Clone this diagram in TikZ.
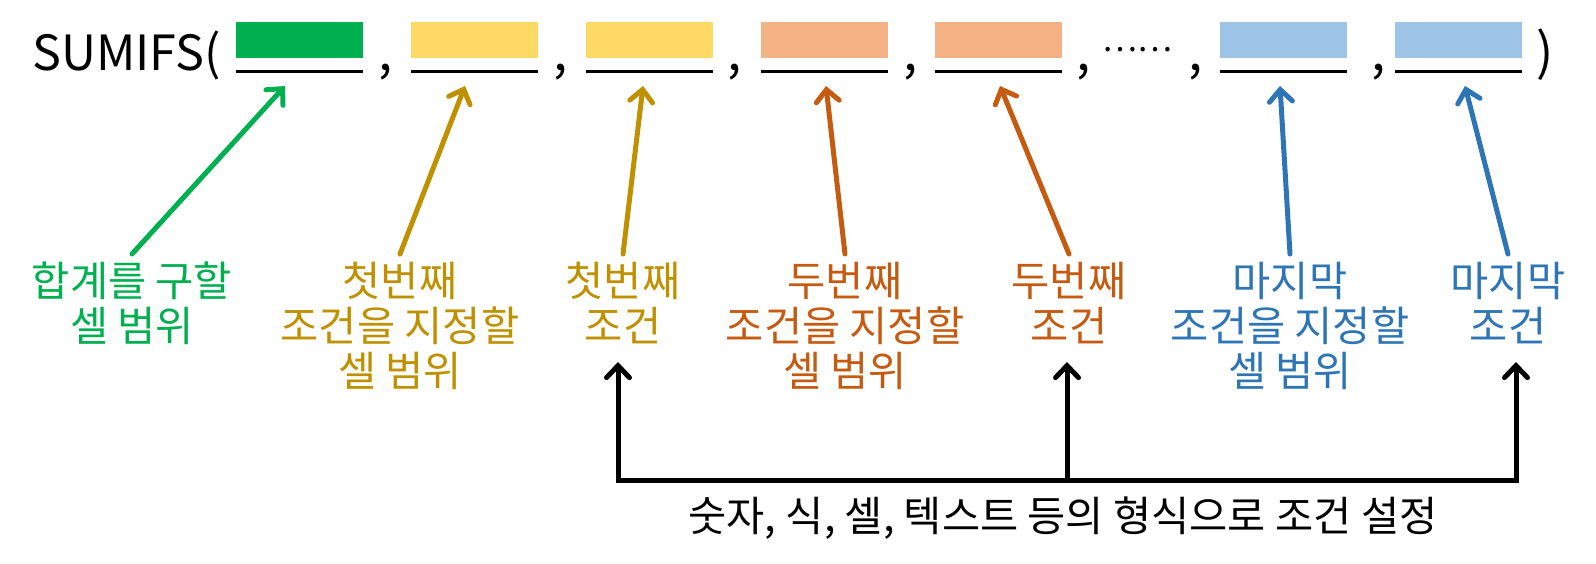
\documentclass[tikz,border=0pt]{standalone}
\usepackage{fontspec}
\setmainfont{Noto Sans CJK KR}
\usetikzlibrary{arrows.meta}

\definecolor{sumgreen}{HTML}{00B050}
\definecolor{firstfill}{HTML}{FFD966}
\definecolor{firstdark}{HTML}{BF9000}
\definecolor{secondfill}{HTML}{F4B183}
\definecolor{seconddark}{HTML}{C55A11}
\definecolor{lastfill}{HTML}{9DC3E6}
\definecolor{lastdark}{HTML}{2E75B6}

\begin{document}
\begin{tikzpicture}[x=1pt, y=-1pt,
    slot/.style={inner sep=0, minimum width=127pt, minimum height=36pt, anchor=north west},
    big/.style={font=\fontsize{51}{60}\selectfont, inner sep=0, anchor=base},
    lbl/.style={font=\fontsize{41.5}{45}\selectfont, align=center, inner sep=0, anchor=north},
    barb/.tip={Straight Barb[length=12pt, width=23pt, line cap=round]},
    pointer/.style={line width=5pt, line cap=round, -barb}]
    \useasboundingbox (0,0) rectangle (1596,563);

    % formula line
    \node[big, anchor=base west, font=\fontsize{48.5}{60}\selectfont] (sumifs) at (32,70) {SUMIFS(};
    \node[slot, fill=sumgreen] (s1) at (236,22) {};
    \node[slot, fill=firstfill] (s2) at (411,22) {};
    \node[slot, fill=firstfill] (s3) at (586,22) {};
    \node[slot, fill=secondfill] (s4) at (761,22) {};
    \node[slot, fill=secondfill] (s5) at (935,22) {};
    \node[slot, fill=lastfill] (s6) at (1220,22) {};
    \node[slot, fill=lastfill] (s7) at (1395,22) {};
    \foreach \s in {s1,s2,s3,s4,s5,s6,s7}
        \draw[line width=3pt] ([yshift=-13pt]\s.south west) -- ([yshift=-13pt]\s.south east);
    \node[big] (c1) at (386,70) {,};
    \node[big] (c2) at (561,70) {,};
    \node[big] (c3) at (735,70) {,};
    \node[big] (c4) at (911,70) {,};
    \node[big] (c5) at (1084,70) {,};
    \node[big, font=\fontsize{33}{33}\selectfont] (dots) at (1137,51) {……};
    \node[big] (c6) at (1196,70) {,};
    \node[big] (c7) at (1379,70) {,};
    \node[big] (close) at (1545,70) {)};

    % labels
    \node[lbl, text=sumgreen] (l1) at (132,262) {합계를 구할\\셀 범위};
    \node[lbl, text=firstdark] (l2) at (400,262) {첫번째\\조건을 지정할\\셀 범위};
    \node[lbl, text=firstdark] (l3) at (623,262) {첫번째\\조건};
    \node[lbl, text=seconddark] (l4) at (845,262) {두번째\\조건을 지정할\\셀 범위};
    \node[lbl, text=seconddark] (l5) at (1069,262) {두번째\\조건};
    \node[lbl, text=lastdark] (l6) at (1290,262) {마지막\\조건을 지정할\\셀 범위};
    \node[lbl, text=lastdark] (l7) at (1508,262) {마지막\\조건};

    % arrow tips under the slots
    \coordinate (t1) at (285,86);
    \coordinate (t2) at (465,86);
    \coordinate (t3) at (643,86);
    \coordinate (t4) at (826,86);
    \coordinate (t5) at (1000,86);
    \coordinate (t6) at (1280,86);
    \coordinate (t7) at (1465,86);

    \draw[pointer, sumgreen] ([yshift=8pt]l1.north) -- (t1);
    \draw[pointer, firstdark] ([yshift=8pt]l2.north) -- (t2);
    \draw[pointer, firstdark] ([yshift=8pt]l3.north) -- (t3);
    \draw[pointer, seconddark] ([yshift=8pt]l4.north) -- (t4);
    \draw[pointer, seconddark] ([yshift=8pt]l5.north) -- (t5);
    \draw[pointer, lastdark] ([yshift=8pt]l6.north) -- (t6);
    \draw[pointer, lastdark] ([yshift=8pt]l7.north) -- (t7);

    % condition bracket
    \coordinate (h1) at (618,480);
    \coordinate (h2) at (1067,480);
    \coordinate (h3) at (1516,480);
    \coordinate (k1) at (618,362);
    \coordinate (k2) at (1067,362);
    \coordinate (k3) at (1516,362);
    \draw[line width=5pt, barb-barb] (k1) -- (h1) -- (h3) -- (k3);
    \draw[pointer] (h2) -- (k2);
    \node[font=\fontsize{41.5}{45}\selectfont, inner sep=0] (note) at (1063,518) {숫자, 식, 셀, 텍스트 등의 형식으로 조건 설정};
\end{tikzpicture}
\end{document}
